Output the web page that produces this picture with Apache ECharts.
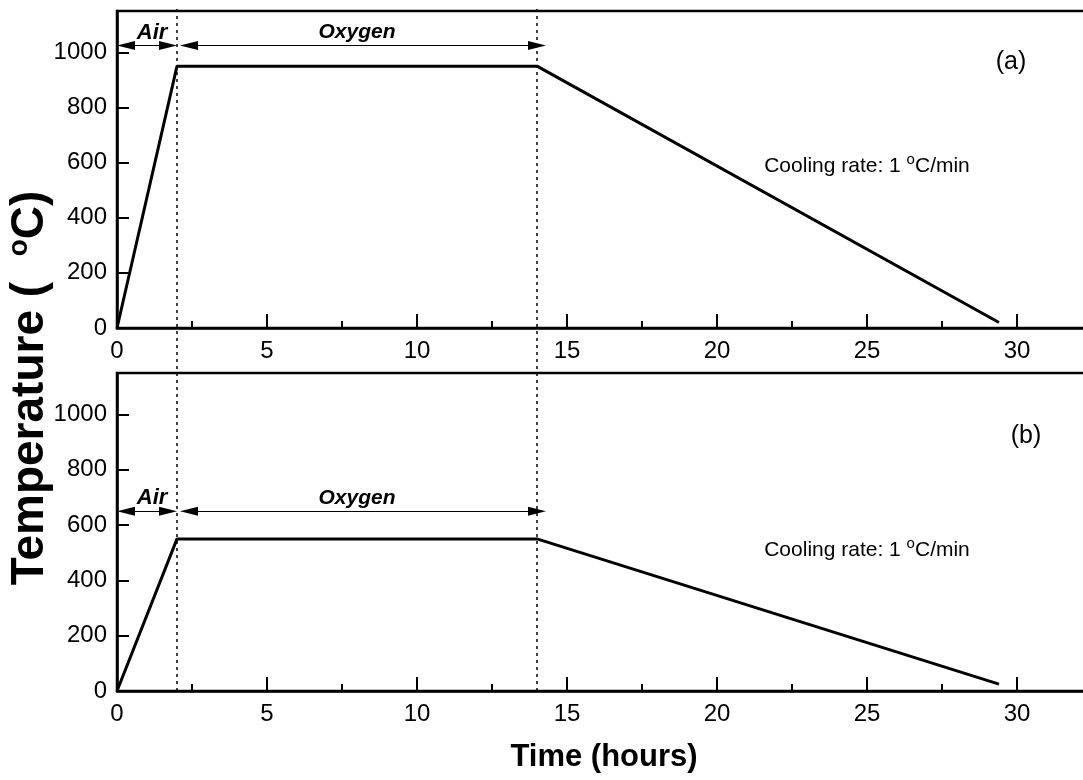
<!DOCTYPE html>
<html><head><meta charset="utf-8">
<script src="https://cdn.jsdelivr.net/npm/echarts@6/dist/echarts.min.js"></script>
<style>html,body{margin:0;padding:0;background:#fff}#c{width:1083px;height:780px}</style>
</head><body><div id="c"></div>
<script>
// ---- data ----
const hours = [0, 2, 14, 29.4];
const tempA = [0, 950, 950, 20];
const tempB = [0, 550, 550, 25];
const stageBounds = [2, 14];
const airSpan = [0.3, 1.7];
const oxygenSpan = [2.4, 14.0];
const arrowLevelA = 1025;
const arrowLevelB = 650;
const stageLabelOffset = 47;
const airLabelX = 1.17;
const oxygenLabelX = 8.0;
const panelTags = ['(a)', '(b)'];
const panelTagPos = [[29.8, 966], [30.3, 920]];
const coolingPos = [[25.0, 587], [25.0, 509]];
const xMin = 0, xMax = 35, xStep = 5;
const yMin = 0, yMax = 1150, yStep = 200;

const NARROW = "'Liberation Sans Narrow', 'Liberation Sans', Arial, sans-serif";
const SANS = "'Liberation Sans', Arial, sans-serif";

function xAxisCfg(gridIndex) {
  return {
    type: 'value', gridIndex, min: xMin, max: xMax, interval: xStep,
    axisLine: { show: true, onZero: false, lineStyle: { color: '#000', width: 2.5 } },
    axisTick: { show: true, inside: true, length: 14, lineStyle: { color: '#000', width: 2 } },
    minorTick: { show: true, splitNumber: 2, length: 7, lineStyle: { color: '#000', width: 2 } },
    axisLabel: { color: '#000', fontFamily: NARROW, fontSize: 24, margin: 11, showMaxLabel: false, formatter: v => String(v) },
    splitLine: { show: false }
  };
}
function yAxisCfg(gridIndex) {
  return {
    type: 'value', gridIndex, min: yMin, max: yMax, interval: yStep,
    axisLine: { show: true, lineStyle: { color: '#000', width: 2.5 } },
    axisTick: { show: true, inside: true, length: 12, lineStyle: { color: '#000', width: 2 } },
    axisLabel: { color: '#000', fontFamily: NARROW, fontSize: 24, margin: 10, showMaxLabel: false, formatter: v => String(v) },
    splitLine: { show: false }
  };
}

function stageMarks(level) {
  return {
    silent: true,
    symbol: ['triangle', 'triangle'],
    symbolSize: [9, 18],
    lineStyle: { color: '#000', width: 1.2, type: 'solid' },
    label: { show: false },
    data: [
      [{ coord: [airSpan[0], level] }, { coord: [airSpan[1], level] }],
      [{ coord: [oxygenSpan[0], level] }, { coord: [oxygenSpan[1], level] }]
    ]
  };
}
function textMarks(level, panel) {
  const stageStyle = { fontFamily: SANS, fontWeight: 'bold', fontStyle: 'italic', fontSize: 22, color: '#000' };
  return {
    silent: true,
    symbol: 'circle', symbolSize: 1,
    itemStyle: { color: 'rgba(0,0,0,0)' },
    label: { show: true, position: 'inside', color: '#000', formatter: p => p.name },
    data: [
      { name: 'Air', coord: [airLabelX, level + stageLabelOffset], label: stageStyle },
      { name: 'Oxygen', coord: [oxygenLabelX, level + stageLabelOffset], label: Object.assign({}, stageStyle, { fontSize: 21 }) },
      { name: panelTags[panel], coord: panelTagPos[panel], label: { fontFamily: SANS, fontSize: 25, color: '#000' } },
      { name: 'cool', coord: coolingPos[panel], label: {
          formatter: '{a|Cooling rate: 1 }{s|o}{a|C/min}',
          rich: {
            a: { fontFamily: NARROW, fontSize: 21, color: '#000', lineHeight: 28 },
            s: { fontFamily: NARROW, fontSize: 15, color: '#000', verticalAlign: 'top', lineHeight: 12 }
          } } }
    ]
  };
}

const chart = echarts.init(document.getElementById('c'), null, { renderer: 'canvas' });
chart.setOption({
  animation: false,
  backgroundColor: '#fff',
  grid: [
    { left: 117, top: 11, width: 1050, height: 317, show: true, borderColor: '#000', borderWidth: 2.5, backgroundColor: 'transparent', outerBoundsMode: 'none', containLabel: false },
    { left: 117, top: 373, width: 1050, height: 318, show: true, borderColor: '#000', borderWidth: 2.5, backgroundColor: 'transparent', outerBoundsMode: 'none', containLabel: false },
    { left: 117, top: 8, width: 1050, height: 683, show: false, outerBoundsMode: 'none', containLabel: false }
  ],
  xAxis: [xAxisCfg(0), xAxisCfg(1), { type: 'value', gridIndex: 2, min: xMin, max: xMax, show: false }],
  yAxis: [yAxisCfg(0), yAxisCfg(1), { type: 'value', gridIndex: 2, min: 0, max: 1, show: false }],
  series: [
    {
      type: 'line', xAxisIndex: 0, yAxisIndex: 0, symbol: 'none', z: 5,
      data: hours.map((h, i) => [h, tempA[i]]),
      lineStyle: { color: '#000', width: 3 },
      markLine: stageMarks(arrowLevelA),
      markPoint: textMarks(arrowLevelA, 0)
    },
    {
      type: 'line', xAxisIndex: 1, yAxisIndex: 1, symbol: 'none', z: 5,
      data: hours.map((h, i) => [h, tempB[i]]),
      lineStyle: { color: '#000', width: 3 },
      markLine: stageMarks(arrowLevelB),
      markPoint: textMarks(arrowLevelB, 1)
    },
    {
      type: 'line', xAxisIndex: 2, yAxisIndex: 2, symbol: 'none', data: [],
      markLine: {
        silent: true, symbol: ['none', 'none'],
        lineStyle: { color: '#000', width: 1.5, type: [3, 4] },
        label: { show: false },
        data: stageBounds.map(b => ({ xAxis: b }))
      }
    }
  ],
  graphic: [
    {
      type: 'text', x: 30, y: 388, rotation: Math.PI / 2,
      style: {
        text: '{a|Temperature (  }{s|o}{a|C)}',
        align: 'center', verticalAlign: 'middle',
        rich: {
          a: { fontFamily: SANS, fontWeight: 'bold', fontSize: 46, fill: '#000', lineHeight: 50 },
          s: { fontFamily: SANS, fontWeight: 'bold', fontSize: 28, fill: '#000', verticalAlign: 'top', lineHeight: 30 }
        }
      }
    },
    {
      type: 'text', x: 604, y: 757,
      style: { text: 'Time (hours)', align: 'center', verticalAlign: 'middle',
        fontFamily: SANS, fontWeight: 'bold', fontSize: 31, fill: '#000' }
    }
  ]
});
</script>
</body></html>
